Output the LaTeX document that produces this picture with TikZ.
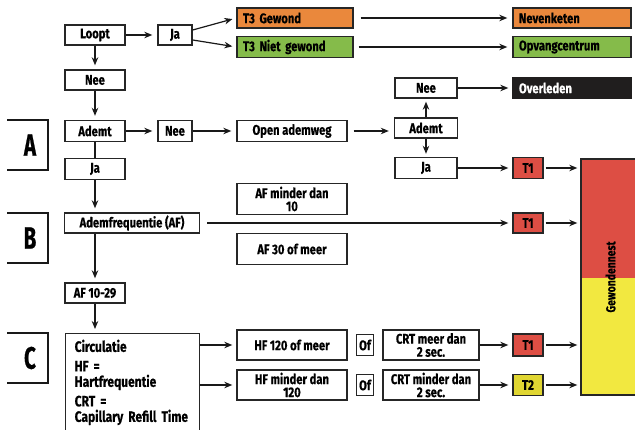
\documentclass[tikz,border=0pt]{standalone}
\usepackage{fontspec}
\setmainfont{Fira Sans}[FakeStretch=0.8, BoldFeatures={FakeBold=0.4}]
\newfontfamily\abcfont{Fira Sans}[FakeStretch=0.66, BoldFeatures={FakeBold=0.6}]
\usepackage{xcolor}
\definecolor{t3orange}{RGB}{234,136,60}
\definecolor{t3green}{RGB}{133,187,74}
\definecolor{t1red}{RGB}{221,78,68}
\definecolor{t2yellow}{RGB}{224,214,50}
\definecolor{nestyellow}{RGB}{242,232,64}
\definecolor{deadblack}{RGB}{32,30,30}
\usepackage{tikz}
\usetikzlibrary{arrows.meta, positioning, calc}

\tikzset{
  box/.style={draw=black!85, line width=1.4pt, fill=white, inner sep=1pt,
    font=\bfseries\fontsize{14}{13}\selectfont, align=center},
  lbox/.style={box, align=left, inner xsep=6pt},
  sz/.style 2 args={minimum width=#1, minimum height=#2},
  pijl/.style={-{Stealth[length=8pt,width=6.5pt]}, line width=1.2pt, black!90},
  lijn/.style={line width=1.2pt, black!90},
  abc/.style={font=\abcfont\bfseries\fontsize{31}{31}\selectfont, inner sep=0pt}
}

\begin{document}
\begin{tikzpicture}[x=1pt, y=-1pt]
  \useasboundingbox (0,0) rectangle (635,430);
  \clip (0,0) rectangle (635,430);

  % Loopt
  \node[box, sz={60pt}{20pt}] (loopt) at (95,35) {Loopt};
  \node[box, sz={34pt}{20pt}] (jaT) at (175,35) {Ja};
  \node[lbox, fill=t3orange, sz={116pt}{20pt}, text width=104pt] (t3g) at (295,18) {T3 Gewond};
  \node[lbox, fill=t3green, sz={116pt}{21pt}, text width=104pt] (t3n) at (295,47) {T3 Niet gewond};
  \node[lbox, fill=t3orange, sz={118pt}{20pt}, text width=106pt] (neven) at (572,18) {Nevenketen};
  \node[lbox, fill=t3green, sz={118pt}{21pt}, text width=106pt] (opvang) at (572,47) {Opvangcentrum};
  \node[box, sz={60pt}{20pt}] (neeL) at (95,80) {Nee};

  % A
  \draw[lijn, line width=1.4pt] (7,120) -- (48,120) -- (48,170) -- (7,170);
  \node[abc] (labA) at (30,145) {A};
  \node[box, sz={60pt}{21pt}] (ademt) at (95,131) {Ademt};
  \node[box, sz={34pt}{21pt}] (neeA) at (175,131) {Nee};
  \node[box, sz={110pt}{21pt}] (open) at (292,131) {Open ademweg};
  \node[box, sz={63pt}{20pt}] (ademtR) at (426,128) {Ademt};
  \node[box, sz={62pt}{20pt}] (neeR) at (426,88) {Nee};
  \node[lbox, fill=deadblack, draw=deadblack, text=white, sz={118pt}{20pt}, text width=106pt] (overl) at (572,88) {Overleden};
  \node[box, sz={62pt}{21pt}] (jaR) at (426,168) {Ja};
  \node[box, fill=t1red, sz={30pt}{21pt}] (t1a) at (528,168) {T1};
  \node[box, sz={60pt}{21pt}] (jaL) at (95,169) {Ja};

  % B
  \draw[lijn, line width=1.4pt] (7,213) -- (48,213) -- (48,263) -- (7,263);
  \node[abc] (labB) at (30,238) {B};
  \node[box, sz={135pt}{20pt}] (af) at (132,223) {Ademfrequentie (AF)};
  \node[box, sz={110pt}{31pt}] (afmin) at (292,199) {AF minder dan\\10};
  \node[box, sz={110pt}{31pt}] (af30) at (292,249) {AF 30 of meer};
  \node[box, fill=t1red, sz={30pt}{20pt}] (t1b) at (528,223) {T1};
  \node[box, sz={60pt}{20pt}] (af1029) at (95,293) {AF 10-29};

  % C
  \draw[lijn, line width=1.4pt] (7,333) -- (48,333) -- (48,383) -- (7,383);
  \node[abc] (labC) at (30,358) {C};
  \node[box, anchor=north west, align=left, text width=120pt, inner xsep=7pt, inner ysep=6pt,
    font=\bfseries\fontsize{15}{15.5}\selectfont] (circ) at (65,333)
    {\hspace*{2pt}Circulatie\\[4pt] \hspace*{2pt}HF =\\ \hspace*{2pt}Hartfrequentie\\[4pt] \hspace*{2pt}CRT =\\ \hspace*{2pt}Capillary Refill Time};
  \node[box, sz={110pt}{30pt}] (hf1) at (292,345) {HF 120 of meer};
  \node[box, sz={110pt}{30pt}] (hf2) at (292,385) {HF minder dan\\120};
  \node[box, sz={17pt}{21pt}] (of1) at (365,345) {Of};
  \node[box, sz={17pt}{21pt}] (of2) at (365,385) {Of};
  \node[box, sz={96pt}{30pt}] (crt1) at (431,345) {CRT meer dan\\2 sec.};
  \node[box, sz={96pt}{30pt}] (crt2) at (431,385) {CRT minder dan\\2 sec.};
  \node[box, fill=t1red, sz={30pt}{22pt}] (t1c) at (528,345) {T1};
  \node[box, fill=t2yellow, sz={30pt}{21pt}] (t2) at (528,385) {T2};

  % Gewondennest
  \fill[t1red] (581,159) rectangle (640,278);
  \fill[nestyellow] (581,278) rectangle (640,395);
  \node[draw=black!85, line width=1.4pt, rotate=90, sz={236pt}{59pt},
    font=\bfseries\fontsize{13}{13}\selectfont] (nest) at (610.5,277) {Gewondennest};

  % Pijlen
  \draw[pijl, shorten >=5pt] (loopt) -- (jaT);
  \draw[pijl, shorten >=4pt] ([yshift=5pt]jaT.east) -- (t3g.west);
  \draw[pijl, shorten >=4pt] ([yshift=-5pt]jaT.east) -- (t3n.west);
  \draw[pijl, shorten <=7pt, shorten >=5pt] (t3g) -- (neven);
  \draw[pijl, shorten <=5pt, shorten >=5pt] (t3n) -- (opvang);
  \draw[pijl, shorten >=4pt] (loopt) -- (neeL);
  \draw[pijl, shorten >=4pt] (neeL) -- (ademt);
  \draw[pijl, shorten >=5pt] (ademt) -- (neeA);
  \draw[pijl, shorten >=5pt] (neeA) -- (open);
  \draw[pijl, shorten <=6pt, shorten >=5pt] (open.east) -- (open.east -| ademtR.west);
  \draw[pijl, shorten >=3pt] (ademtR) -- (neeR);
  \draw[pijl, shorten >=3pt] (ademtR) -- (jaR);
  \draw[pijl, shorten >=4pt] (neeR) -- (overl);
  \draw[pijl, shorten >=4pt] (jaR) -- (t1a);
  \draw[lijn] (ademt) -- (jaL);
  \draw[pijl, shorten >=4pt] (jaL) -- (jaL |- af.north);
  \draw[pijl, shorten <=7pt, shorten >=4pt] (af) -- (t1b);
  \draw[pijl, shorten >=4pt] (af.south -| af1029) -- (af1029);
  \draw[pijl, shorten >=4pt] (af1029) -- (af1029 |- circ.north);
  \draw[pijl, shorten >=4pt] (hf1 -| circ.east) -- (hf1.west);
  \draw[pijl, shorten >=4pt] (hf2 -| circ.east) -- (hf2.west);
  \draw[pijl, shorten >=4pt] (crt1) -- (t1c);
  \draw[pijl, shorten >=4pt] (crt2) -- (t2);
  \draw[pijl, shorten <=2pt, shorten >=3pt] (t1a) -- (t1a -| nest.north);
  \draw[pijl, shorten <=2pt, shorten >=3pt] (t1b) -- (t1b -| nest.north);
  \draw[pijl, shorten <=2pt, shorten >=3pt] (t1c) -- (t1c -| nest.north);
  \draw[pijl, shorten <=2pt, shorten >=3pt] (t2) -- (t2 -| nest.north);
\end{tikzpicture}
\end{document}
